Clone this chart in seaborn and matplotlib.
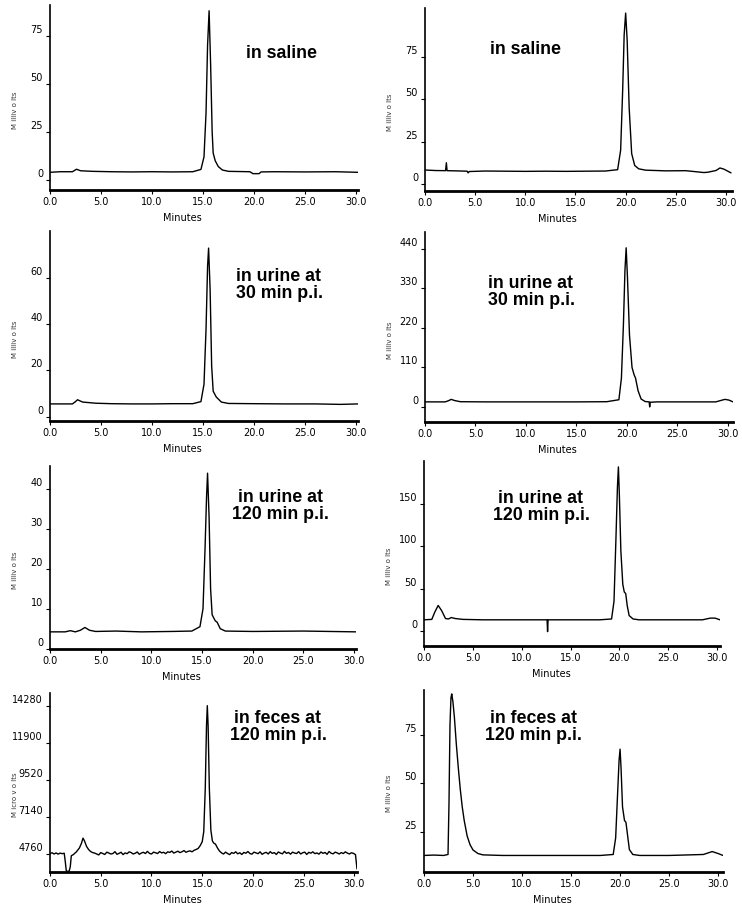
import numpy as np
import pandas as pd
import matplotlib
matplotlib.use("Agg")
import matplotlib.pyplot as plt
import matplotlib.transforms as mtransforms
from matplotlib import font_manager
import seaborn as sns

# chromatogram traces (time in minutes, detector signal)

# row 1 - in saline
saline_l_t = [0, 1.0, 2.2, 2.6, 3.0, 4.2, 6, 8, 10, 12, 14, 14.8, 15.1, 15.3, 15.45, 15.6,
              15.75, 15.9, 16.0, 16.2, 16.5, 16.9, 17.5, 19.6, 19.9, 20.5, 20.7, 22, 25, 28, 30.2]
saline_l_v = [4.0, 4.3, 4.3, 5.6, 4.8, 4.5, 4.3, 4.2, 4.3, 4.2, 4.3, 5.5, 12, 35, 70, 88,
              60, 25, 14, 10, 7, 5.2, 4.5, 4.3, 3.3, 3.3, 4.2, 4.3, 4.2, 4.3, 4.0]

saline_r_t = [0, 1.0, 2.05, 2.13, 2.2, 3, 4.2, 4.3, 4.4, 6, 8, 10, 12, 14, 16, 18, 19.2, 19.5,
              19.7, 19.85, 20.0, 20.15, 20.35, 20.6, 20.9, 21.3, 22, 24, 26, 27.8, 28.2, 29.0,
              29.4, 29.8, 30.5]
saline_r_v = [8.3, 8.0, 7.9, 12.6, 7.9, 7.8, 7.6, 6.6, 7.4, 7.7, 7.6, 7.5, 7.6, 7.5, 7.6, 7.7, 8.5, 20,
              55, 88, 101, 85, 45, 18, 11, 9, 8.2, 7.8, 7.9, 6.8, 7.0, 8.0,
              9.5, 8.8, 6.6]

# row 2 - in urine at 30 min p.i.
urine30_l_t = [0, 2.2, 2.5, 2.7, 3.2, 4.5, 6, 8, 10, 12, 14, 14.8, 15.1, 15.3, 15.45, 15.55,
               15.7, 15.85, 16.0, 16.3, 16.8, 17.5, 20, 23, 26, 28.5, 30.2]
urine30_l_v = [5.5, 5.5, 6.5, 7.3, 6.3, 5.8, 5.6, 5.5, 5.5, 5.6, 5.6, 6.5, 14, 38, 65, 73,
               55, 22, 11, 8.5, 6.3, 5.7, 5.6, 5.5, 5.5, 5.3, 5.5]

urine30_r_t = [0, 2.0, 2.3, 2.6, 2.9, 3.5, 6, 9, 12, 15, 18, 19.2, 19.45, 19.65, 19.8, 19.92,
               20.05, 20.25, 20.5, 20.7, 20.85, 21.1, 21.4, 21.8, 22.2, 22.25, 22.3, 23, 26,
               28.8, 29.3, 29.7, 30.1, 30.5]
urine30_r_v = [14, 14, 17, 21, 18, 14.5, 14, 14, 14, 14, 14.5, 20, 80, 230, 380, 443,
               360, 200, 110, 90, 80, 45, 22, 15, 14, 0, 13, 14, 14,
               14, 18, 21, 19, 14]

# row 3 - in urine at 120 min p.i.
urine120_l_t = [0, 1.5, 2.0, 2.5, 3.0, 3.45, 3.9, 4.5, 6.5, 9, 12, 14, 14.8, 15.1, 15.3, 15.45,
                15.55, 15.7, 15.85, 16.0, 16.3, 16.5, 16.8, 17.3, 20, 25, 30.2]
urine120_l_v = [4.2, 4.2, 4.5, 4.2, 4.6, 5.3, 4.6, 4.3, 4.4, 4.2, 4.3, 4.4, 5.5, 10, 25, 38,
                44, 33, 15, 8.5, 7, 6.6, 5, 4.4, 4.3, 4.4, 4.2]

urine120_r_t = [0, 0.8, 1.1, 1.45, 1.8, 2.2, 2.5, 2.8, 3.2, 4, 6, 9, 12, 12.6, 12.65, 12.7, 13.5,
                16, 18, 19.2, 19.45, 19.65, 19.8, 19.9, 20.0, 20.15, 20.35, 20.5, 20.65, 20.8,
                21.0, 21.4, 22, 25, 28.5, 29.3, 29.8, 30.3]
urine120_r_v = [13, 13.5, 22, 30, 24, 14.5, 14, 15.7, 14.5, 13.5, 13, 13, 13, 13, -1, 13, 13,
                13, 13, 14, 35, 110, 170, 194, 160, 95, 55, 46, 44, 30,
                18, 14, 13, 13, 13, 15, 15, 13]

# row 4 - in feces at 120 min p.i. (left one is in microvolts, noisy baseline)
feces_l_start_t = [0.0, 0.2, 0.4, 0.6, 0.8, 1.0, 1.2, 1.4, 1.5, 1.6, 1.75, 1.9, 2.0, 2.1,
                   2.3, 2.6, 2.9, 3.1, 3.25, 3.4, 3.6, 3.8, 4.0, 4.2]
feces_l_start_v = [4790, 4840, 4760, 4830, 4750, 4820, 4780, 4810, 4300, 3700, 3620, 3680, 3950, 4650,
                   4720, 4900, 5150, 5450, 5780, 5600, 5250, 5050, 4920, 4850]
feces_l_base1_t = [4.4, 4.6, 4.8, 5.0, 5.2, 5.4, 5.6, 5.8, 6.0, 6.2, 6.4, 6.6, 6.8, 7.0, 7.2,
                   7.4, 7.6, 7.8, 8.0, 8.2, 8.4, 8.6, 8.8, 9.0, 9.2, 9.4, 9.6, 9.8, 10.0, 10.2,
                   10.4, 10.6, 10.8, 11.0, 11.2, 11.4, 11.6, 11.8, 12.0, 12.2, 12.4, 12.6, 12.8,
                   13.0, 13.2, 13.4, 13.6, 13.8, 14.0, 14.2, 14.4, 14.6]
feces_l_base1_v = [4820, 4760, 4700, 4850, 4790, 4730, 4880, 4820, 4760, 4790, 4910, 4740, 4800, 4870, 4720,
                   4830, 4780, 4900, 4850, 4760, 4810, 4890, 4740, 4820, 4870, 4790, 4930, 4800, 4760, 4880,
                   4840, 4790, 4920, 4830, 4870, 4780, 4900, 4860, 4950, 4820, 4880, 4940, 4850,
                   4900, 4980, 4870, 4930, 4960, 4900, 5000, 5050, 5120]
feces_l_peak_t = [14.8, 15.0, 15.15, 15.3, 15.42, 15.5, 15.58, 15.7, 15.85, 16.0, 16.15, 16.3,
                  16.5, 16.7]
feces_l_peak_v = [5300, 5550, 6200, 9000, 13000, 14300, 13000, 9000, 6300, 5600, 5450, 5400,
                  5150, 4950]
feces_l_base2_t = [16.9, 17.1, 17.3, 17.5, 17.7, 17.9, 18.1, 18.3, 18.5, 18.7, 18.9, 19.1, 19.3,
                   19.5, 19.7, 19.9, 20.1, 20.3, 20.5, 20.7, 20.9, 21.1, 21.3, 21.5, 21.7, 21.9,
                   22.1, 22.3, 22.5, 22.7, 22.9, 23.1, 23.3, 23.5, 23.7, 23.9, 24.1, 24.3, 24.5,
                   24.7, 24.9, 25.1, 25.3, 25.5, 25.7, 25.9, 26.1, 26.3, 26.5, 26.7, 26.9, 27.1,
                   27.3, 27.5, 27.7, 27.9, 28.1, 28.3, 28.5, 28.7, 28.9, 29.1, 29.3, 29.5, 29.7,
                   29.9, 30.1, 30.25]
feces_l_base2_v = [4830, 4760, 4880, 4790, 4720, 4850, 4800, 4900, 4770, 4840, 4730, 4860, 4810,
                   4920, 4790, 4750, 4880, 4830, 4780, 4900, 4740, 4820, 4870, 4760, 4910, 4800,
                   4850, 4730, 4890, 4820, 4770, 4930, 4800, 4860, 4750, 4880, 4820, 4790, 4910,
                   4760, 4840, 4880, 4730, 4870, 4810, 4900, 4780, 4830, 4750, 4890, 4800, 4860,
                   4740, 4920, 4810, 4770, 4880, 4830, 4760, 4850, 4790, 4900, 4820, 4760, 4840,
                   4800, 4720, 3800]
feces_l_t = feces_l_start_t + feces_l_base1_t + feces_l_peak_t + feces_l_base2_t
feces_l_v = feces_l_start_v + feces_l_base1_v + feces_l_peak_v + feces_l_base2_v

feces_r_t = [0, 1, 2, 2.45, 2.55, 2.65, 2.75, 2.83, 2.95, 3.1, 3.3, 3.5, 3.7, 3.9, 4.1, 4.4, 4.7,
             5.0, 5.5, 6.0, 8, 10, 12, 14, 16, 18, 19.3, 19.55, 19.75, 19.9, 20.0, 20.1, 20.25,
             20.45, 20.6, 20.75, 20.95, 21.3, 22, 25, 28.5, 29.4, 30.0, 30.5]
feces_r_v = [13, 13.2, 13, 13.5, 40, 80, 94, 96, 92, 84, 70, 58, 47, 38, 31, 23, 18.5,
             15.8, 14, 13.3, 13, 13, 13, 13, 13, 13, 13.5, 22, 45, 62, 67.6, 58, 38,
             31, 30, 24, 16, 13.5, 13, 13, 13.5, 15, 14, 13]

x_ticks = [0, 5, 10, 15, 20, 25, 30]
x_tick_labels = ['0.0', '5.0', '10.0', '15.0', '20.0', '25.0', '30.0']

W, H = 742, 907

# panel layout: pixel box (left, top, right, bottom), limits, ticks, labels
panels = [
    dict(t=saline_l_t, v=saline_l_v, box=(50, 5, 358, 190), xmax=30.2, ylim=(-5.2, 91),
         yticks=[0, 25, 50, 75], ylabel='M illiv o lts', text='in saline', tpos=(281, 53)),
    dict(t=saline_r_t, v=saline_r_v, box=(425, 8, 732, 191), xmax=30.6, ylim=(-4.1, 104),
         yticks=[0, 25, 50, 75], ylabel='M illiv o lts', text='in saline', tpos=(526, 49)),
    dict(t=urine30_l_t, v=urine30_l_v, box=(50, 231, 358, 421), xmax=30.2, ylim=(-1.9, 80.4),
         yticks=[0, 20, 40, 60], ylabel='M illiv o lts', text='in urine at\n30 min p.i.', tpos=(279, 285)),
    dict(t=urine30_r_t, v=urine30_r_v, box=(425, 232, 733, 422), xmax=30.5, ylim=(-42, 487),
         yticks=[0, 110, 220, 330, 440], ylabel='M illiv o lts', text='in urine at\n30 min p.i.', tpos=(531, 292)),
    dict(t=urine120_l_t, v=urine120_l_v, box=(50, 466, 356, 649), xmax=30.2, ylim=(-0.1, 45.8),
         yticks=[0, 10, 20, 30, 40], ylabel='M illiv o lts', text='in urine at\n120 min p.i.', tpos=(280, 506)),
    dict(t=urine120_r_t, v=urine120_r_v, box=(424, 461, 720, 646), xmax=30.3, ylim=(-18, 201),
         yticks=[0, 50, 100, 150], ylabel='M illiv o lts', text='in urine at\n120 min p.i.', tpos=(541, 507)),
    dict(t=feces_l_t, v=feces_l_v, box=(50, 693, 357, 872), xmax=30.25, ylim=(3602, 15116),
         yticks=[4760, 7140, 9520, 11900, 14280], ylabel='M icro v o lts', text='in feces at\n120 min p.i.', tpos=(278, 727)),
    dict(t=feces_r_t, v=feces_r_v, box=(424, 690, 723, 872), xmax=30.5, ylim=(4.5, 98),
         yticks=[25, 50, 75], ylabel='M illiv o lts', text='in feces at\n120 min p.i.', tpos=(533, 727)),
]

sns.set_style("ticks")
installed = {f.name for f in font_manager.fontManager.ttflist}
tick_font = 'Liberation Sans Narrow' if 'Liberation Sans Narrow' in installed else 'DejaVu Sans'
plt.rcParams['font.family'] = ['Liberation Sans', 'DejaVu Sans']

fig = plt.figure(figsize=(W / 100, H / 100), dpi=100)
# tick labels in the original sit a few pixels above their tick marks
label_shift = mtransforms.ScaledTranslation(0, 7 / 100, fig.dpi_scale_trans)

for p in panels:
    l, t, r, b = p['box']
    ax = fig.add_axes([l / W, 1 - b / H, (r - l) / W, (b - t) / H])
    df = pd.DataFrame({'Minutes': p['t'], 'signal': p['v']})
    sns.lineplot(data=df, x='Minutes', y='signal', ax=ax, color='black', linewidth=1.0,
                 estimator=None, sort=False)
    ax.set_xlim(0, p['xmax'])
    ax.set_ylim(*p['ylim'])
    ax.set_xticks(x_ticks)
    ax.set_xticklabels(x_tick_labels)
    ax.set_yticks(p['yticks'])
    ax.set_yticklabels([str(y) for y in p['yticks']])
    sns.despine(ax=ax)
    ax.spines['bottom'].set_linewidth(2.0)
    ax.spines['left'].set_linewidth(1.2)
    ax.spines['bottom'].set_color('black')
    ax.spines['left'].set_color('black')
    ax.tick_params(axis='both', direction='out', length=3, width=0.8, pad=2,
                   labelsize=7, colors='black')
    for lab in ax.get_xticklabels() + ax.get_yticklabels():
        lab.set_fontfamily(tick_font)
    for lab in ax.get_yticklabels():
        lab.set_transform(lab.get_transform() + label_shift)
    ax.set_xlabel('Minutes', fontsize=7, family=tick_font, color='black')
    ax.xaxis.set_label_coords(0.43, -23 / (b - t))
    ax.set_ylabel(p['ylabel'], fontsize=5, color='#333333', family='DejaVu Sans')
    ax.yaxis.set_label_coords(-32 / (r - l), 0.43)
    tx, ty = p['tpos']
    fig.text(tx / W, 1 - ty / H, p['text'], ha='center', va='center', ma='center',
             fontsize=12.8, fontweight='bold', linespacing=1.05, color='black')

fig.savefig('out.png', dpi=100)
plt.close(fig)
